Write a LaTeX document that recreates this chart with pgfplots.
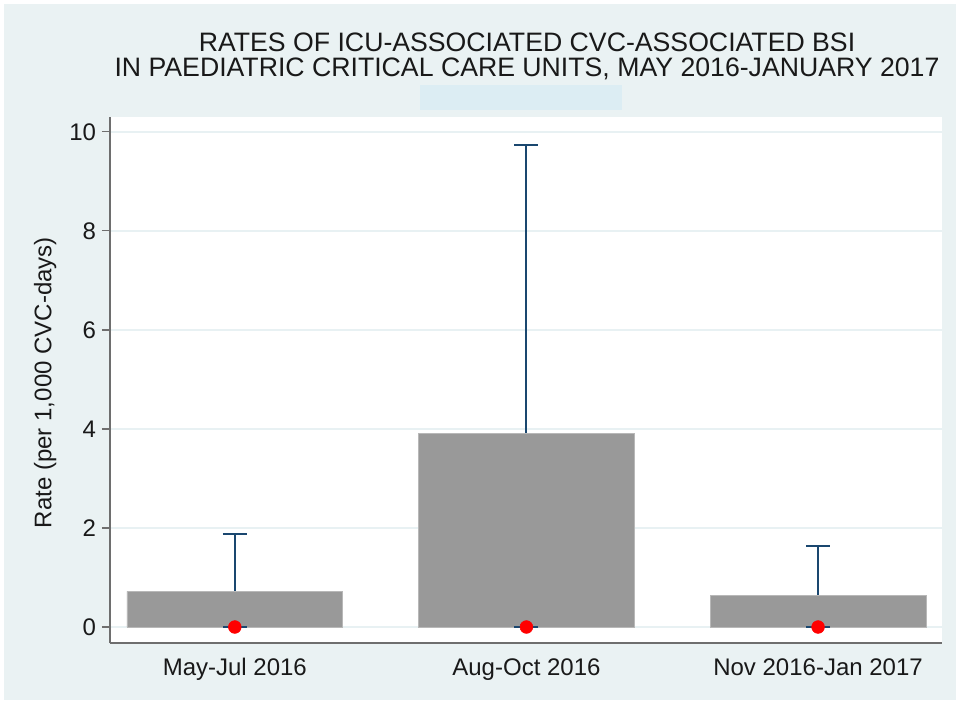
\documentclass[border=0pt]{standalone}
\usepackage{pgfplots}
\pgfplotsset{compat=1.18}
\usepackage{fontspec}
\setmainfont{Liberation Sans}
\definecolor{bgc}{RGB}{234,242,243}
\definecolor{gridc}{RGB}{232,241,243}
\definecolor{axc}{RGB}{110,110,110}
\definecolor{navy}{RGB}{26,71,111}
\definecolor{barc}{RGB}{153,153,153}
\definecolor{boxc}{RGB}{220,237,243}
\begin{document}
\begin{tikzpicture}
\fill[white] (0pt,0pt) rectangle (717pt,525pt);
\fill[bgc] (3pt,0pt) rectangle (717pt,522pt);
\fill[boxc] (315pt,442.5pt) rectangle (466.5pt,461.25pt);
\node[font=\fontsize{20pt}{18.75pt}\selectfont, text=black!90, align=center, inner sep=0pt] at (395.25pt,482.6pt) {RATES OF ICU-ASSOCIATED CVC-ASSOCIATED BSI\\IN PAEDIATRIC CRITICAL CARE UNITS, MAY 2016-JANUARY 2017};
\begin{axis}[
  at={(82.5pt,42.75pt)}, anchor=south west,
  scale only axis, width=624pt, height=394.5pt,
  xmin=-0.428, xmax=2.425, ymin=-0.323, ymax=10.30,
  axis background/.style={fill=white},
  axis x line*=bottom, axis y line*=left,
  axis line style={axc, line width=0.9pt, -},
  xtick={0,1,2}, xticklabels={May-Jul 2016, Aug-Oct 2016, Nov 2016-Jan 2017},
  x tick style={draw=none},
  ytick={0,2,4,6,8,10},
  y tick style={axc, line width=0.9pt},
  tick align=outside, major tick length=6pt,
  ymajorgrids, grid style={gridc, line width=1.2pt},
  /pgf/number format/assume math mode=true,
  tick label style={font=\fontsize{18pt}{22pt}\selectfont, text=black!90},
  yticklabel style={xshift=-1pt},
  xticklabel style={yshift=-2pt},
  ylabel={Rate (per 1,000 CVC-days)},
  ylabel style={font=\fontsize{18pt}{22pt}\selectfont, text=black!90, at={(axis description cs:-0.078,0.495)}, anchor=center},
]
% error bars (0 to upper limit)
\addplot[navy, line width=1.5pt, mark=-, mark size=9pt, only marks,
  error bars/.cd, y dir=plus, y explicit,
  error mark=|, error mark options={navy, line width=1.5pt, mark size=9pt},
  error bar style={navy, line width=1.5pt}]
  coordinates {(0,0) +- (0,1.88) (1,0) +- (0,9.74) (2,0) +- (0,1.64)};
% bars
\addplot[ybar, bar width=0.74, fill=barc, draw=barc!70!white, line width=0.6pt]
  coordinates {(0,0.72) (1,3.90) (2,0.63)};
% point estimates
\addplot[only marks, mark=*, mark size=4.8pt, red, mark options={fill=red, draw=red}]
  coordinates {(0,0) (1,0) (2,0)};
\end{axis}
\end{tikzpicture}
\end{document}
